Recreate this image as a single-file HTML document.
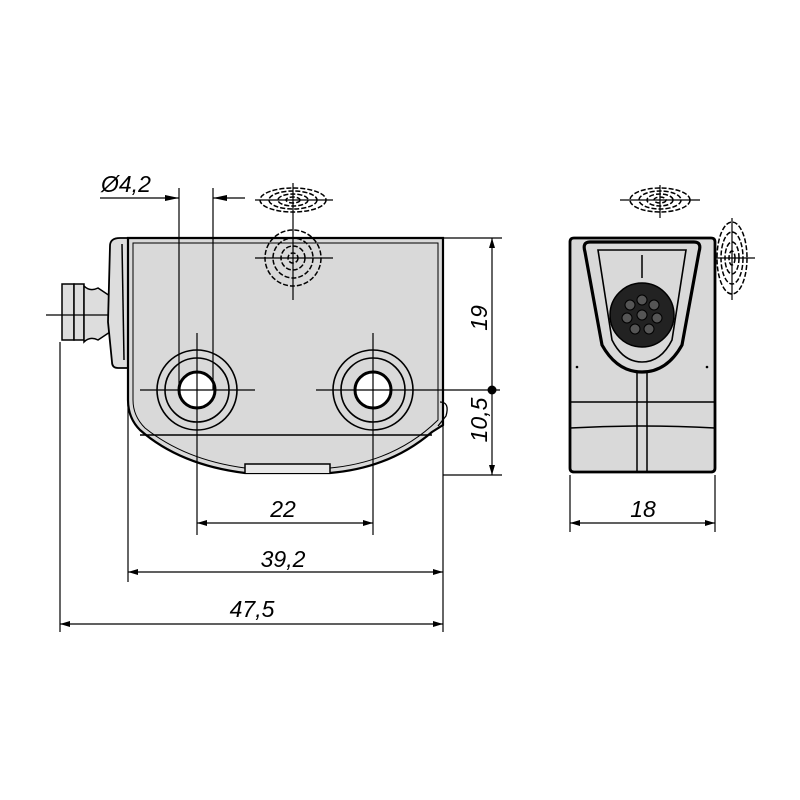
<!DOCTYPE html>
<html><head><meta charset="utf-8"><style>body{margin:0;background:#fff}svg{display:block}</style></head>
<body>
<svg width="800" height="800" viewBox="0 0 800 800" xmlns="http://www.w3.org/2000/svg" font-family="Liberation Sans, sans-serif">
<defs>
<marker id="a" viewBox="0 0 10 6" refX="10" refY="3" markerWidth="11" markerHeight="6" orient="auto-start-reverse" markerUnits="userSpaceOnUse"><path d="M0,0L10,3L0,6z" fill="#000"/></marker>
<marker id="b" viewBox="0 0 14 6" refX="14" refY="3" markerWidth="14" markerHeight="6" orient="auto-start-reverse" markerUnits="userSpaceOnUse"><path d="M0,0L14,3L0,6z" fill="#000"/></marker>
</defs>
<g stroke="#000" fill="none" stroke-width="1.5">
<!-- connector -->
<path d="M62,284h12v56h-12z" fill="#ddd"/>
<path d="M74,284h10v56h-10z" fill="#ddd"/>
<path d="M84,286q6,6 14,2l12,8v36l-12,8q-8,-4 -14,2z" fill="#ddd"/>
<line x1="46" y1="315" x2="112" y2="315" stroke-width="1.2"/>
<!-- tab -->
<path d="M110,246q0,-8 10,-8h10v130h-12q-6,0 -6,-6l-4,-40z" fill="#ddd" stroke-width="1.8"/>
<line x1="122" y1="244" x2="124" y2="360"/>
<!-- body -->
<path d="M128,238H443V425L432,432Q390,468 330,473H245Q180,465 140,430Q128,418 128,400Z" fill="#d9d9d9" stroke-width="2.2"/>
<path d="M133,243H438V420Q395,462 330,468H245Q185,460 145,428Q133,416 133,400Z" stroke-width="1"/>
<line x1="140" y1="435" x2="432" y2="435"/>
<path d="M245,473v-9h85v9" fill="#e8e8e8"/>
<path d="M440,402q10,0 6,14l-8,10" stroke-width="1.3"/>
<!-- holes -->
<g fill="#d9d9d9" stroke-width="1.6">
<circle cx="197" cy="390" r="40"/><circle cx="197" cy="390" r="32"/><circle cx="197" cy="390" r="18" fill="#fff" stroke-width="3"/>
<circle cx="373" cy="390" r="40"/><circle cx="373" cy="390" r="32"/><circle cx="373" cy="390" r="18" fill="#fff" stroke-width="3"/>
</g>
<g stroke-width="1.2">
<line x1="140" y1="390" x2="255" y2="390"/><line x1="197" y1="333" x2="197" y2="535"/>
<line x1="316" y1="390" x2="500" y2="390"/><line x1="373" y1="333" x2="373" y2="535"/>
<line x1="179" y1="188" x2="179" y2="390"/><line x1="213" y1="188" x2="213" y2="390"/>
<line x1="100" y1="198" x2="179" y2="198" marker-end="url(#b)"/>
<line x1="245" y1="198" x2="213" y2="198" marker-end="url(#b)"/>
<line x1="443" y1="238" x2="502" y2="238"/><line x1="443" y1="475" x2="502" y2="475"/>
<line x1="60" y1="342" x2="60" y2="632"/><line x1="128" y1="400" x2="128" y2="582"/>
<line x1="443" y1="425" x2="443" y2="632"/>
<line x1="492" y1="238" x2="492" y2="390" marker-start="url(#a)"/>
<line x1="492" y1="390" x2="492" y2="475" marker-end="url(#a)"/>
<line x1="197" y1="523" x2="373" y2="523" marker-start="url(#a)" marker-end="url(#a)"/>
<line x1="128" y1="572" x2="443" y2="572" marker-start="url(#a)" marker-end="url(#a)"/>
<line x1="60" y1="624" x2="443" y2="624" marker-start="url(#a)" marker-end="url(#a)"/>
<line x1="570" y1="475" x2="570" y2="532"/><line x1="715" y1="475" x2="715" y2="532"/>
<line x1="570" y1="523" x2="715" y2="523" marker-start="url(#a)" marker-end="url(#a)"/>
</g>
<!-- symbols -->
<g stroke-width="1.5" stroke-dasharray="5,2">
<ellipse cx="293" cy="200" rx="33" ry="12"/><ellipse cx="293" cy="200" rx="24" ry="9"/><ellipse cx="293" cy="200" rx="15" ry="6"/><ellipse cx="293" cy="200" rx="7" ry="3"/>
<circle cx="293" cy="258" r="28"/><circle cx="293" cy="258" r="20"/><circle cx="293" cy="258" r="12"/><circle cx="293" cy="258" r="5"/>
<ellipse cx="660" cy="200" rx="30" ry="12"/><ellipse cx="660" cy="200" rx="21" ry="9"/><ellipse cx="660" cy="200" rx="13" ry="6"/><ellipse cx="660" cy="200" rx="6" ry="3"/>
<ellipse cx="732" cy="258" rx="15" ry="36"/><ellipse cx="732" cy="258" rx="11" ry="26"/><ellipse cx="732" cy="258" rx="7" ry="16"/><ellipse cx="732" cy="258" rx="3" ry="7"/>
</g>
<g stroke-width="1.2">
<line x1="255" y1="200" x2="333" y2="200"/><line x1="293" y1="183" x2="293" y2="300"/>
<line x1="255" y1="258" x2="333" y2="258"/>
<line x1="620" y1="200" x2="700" y2="200"/><line x1="660" y1="185" x2="660" y2="218"/>
<line x1="708" y1="258" x2="755" y2="258"/><line x1="732" y1="218" x2="732" y2="300"/>
</g>
<!-- side view -->
<path d="M574,238H711q4,0 4,4V468q0,4 -4,4H574q-4,0 -4,-4V242q0,-4 4,-4z" fill="#d9d9d9" stroke-width="2.8"/>
<path d="M590,242H694q8,0 5,10L682,345Q667,372 642,372Q617,372 602,345L585,252Q582,242 590,242z" fill="#d9d9d9" stroke-width="3.2"/>
<path d="M598,250H686L672,340Q661,362 642,362Q623,362 612,340z" fill="#d9d9d9" stroke-width="1.6"/>
<line x1="642" y1="255" x2="642" y2="278"/>
<line x1="570" y1="402" x2="715" y2="402"/>
<path d="M570,428Q642,424 715,428"/>
<line x1="637" y1="372" x2="637" y2="472"/><line x1="647" y1="372" x2="647" y2="472"/>
<circle cx="642" cy="315" r="32" fill="#222"/>
<g fill="#555" stroke="#000" stroke-width="1">
<circle cx="642" cy="315" r="5"/><circle cx="642" cy="300" r="5"/><circle cx="630" cy="305" r="5"/><circle cx="654" cy="305" r="5"/>
<circle cx="627" cy="318" r="5"/><circle cx="657" cy="318" r="5"/><circle cx="635" cy="329" r="5"/><circle cx="649" cy="329" r="5"/>
</g>
</g>
<circle cx="492" cy="390" r="4.5" fill="#000"/>
<circle cx="577" cy="367" r="1.3" fill="#000"/><circle cx="707" cy="367" r="1.3" fill="#000"/>
<g font-style="italic" font-size="23" fill="#000">
<text x="101" y="192">Ø4,2</text>
<text x="283" y="517" text-anchor="middle">22</text>
<text x="283" y="567" text-anchor="middle">39,2</text>
<text x="252" y="617" text-anchor="middle">47,5</text>
<text x="643" y="517" text-anchor="middle">18</text>
<text transform="translate(487,318) rotate(-90)" text-anchor="middle">19</text>
<text transform="translate(487,420) rotate(-90)" text-anchor="middle">10,5</text>
</g>
</svg>
</body></html>
